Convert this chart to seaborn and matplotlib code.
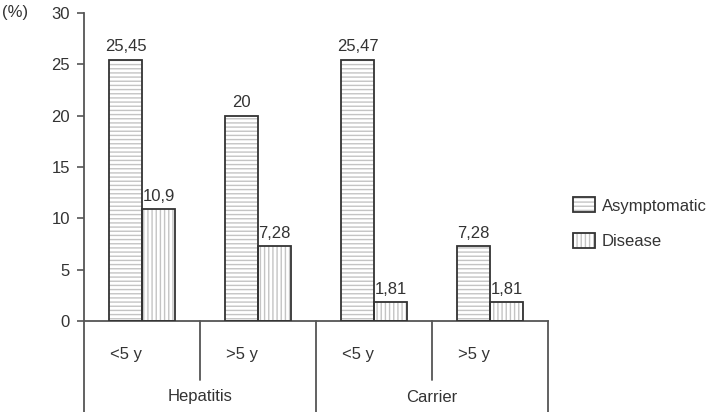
import matplotlib
matplotlib.use("Agg")
import matplotlib.pyplot as plt
import seaborn as sns
import pandas as pd
from matplotlib.patches import Rectangle, Patch
from matplotlib.legend_handler import HandlerTuple

groups = ["Hepatitis", "Hepatitis", "Carrier", "Carrier"]
ages = ["<5 y", ">5 y", "<5 y", ">5 y"]
asymptomatic = [25.45, 20, 25.47, 7.28]
disease = [10.9, 7.28, 1.81, 1.81]
series = ["Asymptomatic", "Disease"]
hatches = {"Asymptomatic": "----", "Disease": "||||"}

cats = [f"{g} {a}" for g, a in zip(groups, ages)]
df = pd.DataFrame({
    "cat": cats * 2,
    "series": ["Asymptomatic"] * 4 + ["Disease"] * 4,
    "value": asymptomatic + disease,
})

sns.set_style("white")
plt.rcParams['font.family'] = ['Liberation Sans', 'DejaVu Sans']
plt.rcParams['hatch.linewidth'] = 1.0

dark = "#333333"
hatch_gray = "#c4c4c4"
fs = 12

fig = plt.figure(figsize=(7.13, 4.12), dpi=100)
ax = fig.add_axes([84 / 713, 1 - 321 / 412, 464 / 713, 308 / 412])

sns.barplot(data=df, x="cat", y="value", hue="series", order=cats,
            hue_order=series, width=0.57, palette=["white", "white"],
            edgecolor=hatch_gray, linewidth=0, legend=False, ax=ax)

for cont, s in zip(ax.containers, series):
    for p in cont:
        p.set_hatch(hatches[s])
        ax.add_patch(Rectangle(p.get_xy(), p.get_width(), p.get_height(),
                               fill=False, edgecolor=dark, linewidth=1.3, zorder=3))
    ax.bar_label(cont, labels=[f"{v:g}".replace(".", ",") for v in cont.datavalues],
                 padding=4, fontsize=fs, color=dark)

ax.set_xlim(-0.5, 3.5)
ax.set_ylim(0, 30)
ax.set_yticks(range(0, 31, 5))
ax.set_xticks([])
ax.set_xlabel("")
ax.set_ylabel("")
ax.tick_params(axis="y", left=True, length=5, width=1.2, color="#555555",
               labelsize=fs, labelcolor=dark, pad=5)
sns.despine(ax=ax, top=True, right=True)
for sp in ["left", "bottom"]:
    ax.spines[sp].set_color("#555555")
    ax.spines[sp].set_linewidth(1.3)

# category labels and separators below the axis
tr = ax.get_xaxis_transform()
for i, a in enumerate(ages):
    ax.text(i - 0.28, -0.11, a, transform=tr, ha="left", va="center",
            fontsize=fs, color=dark)
for x, y0 in [(-0.5, -0.30), (0.5, -0.19), (1.5, -0.30), (2.5, -0.19), (3.5, -0.30)]:
    ax.plot([x, x], [0, y0], transform=tr, color="#555555", lw=1.3, clip_on=False)
ax.text(0.5, -0.245, "Hepatitis", transform=tr, ha="center", va="center",
        fontsize=fs, color=dark)
ax.text(2.5, -0.25, "Carrier", transform=tr, ha="center", va="center",
        fontsize=fs, color=dark)

fig.text(2 / 713, 1 - 13 / 412, "(%)", ha="left", va="center", fontsize=fs, color=dark)

handles = []
for s in series:
    handles.append((Patch(facecolor="white", edgecolor=hatch_gray, hatch=hatches[s], lw=0),
                    Patch(fill=False, edgecolor=dark, lw=1.3)))
fig.legend(handles, series, handler_map={tuple: HandlerTuple(ndivide=1)},
           loc="upper left", bbox_to_anchor=(560 / 713, 1 - 184 / 412), frameon=False,
           fontsize=fs, handlelength=1.3, handleheight=1.0, labelspacing=1.15,
           handletextpad=0.4, labelcolor=dark, borderpad=0.3)

fig.savefig("out.png", dpi=100)
